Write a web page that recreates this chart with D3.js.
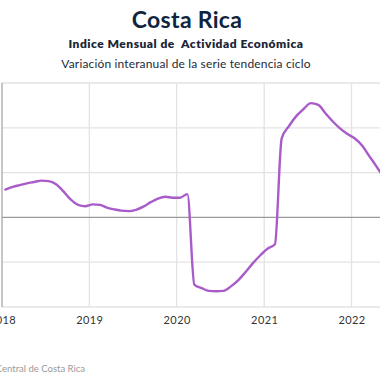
<!DOCTYPE html>
<html>
<head>
<meta charset="utf-8">
<script src="https://cdn.jsdelivr.net/npm/d3@7"></script>
<style>
html,body{margin:0;padding:0;background:#fff;}
svg{display:block;}
</style>
</head>
<body>
<svg id="chart" width="380" height="380"></svg>
<script>
// ---- data ----
const startYear = 2018;
const startMonth = 0; // January
const values = [
  3.1, 3.4, 3.6, 3.8, 3.95, 4.1, 4.05, 3.7, 2.9, 2.0, 1.4, 1.25,
  1.45, 1.4, 1.1, 0.9, 0.75, 0.7, 0.85, 1.2, 1.7, 2.1, 2.3, 2.2,
  2.2, 2.6, -7.5, -7.9, -8.2, -8.25, -8.2, -7.7, -7.0, -6.1, -5.1, -4.25,
  -3.5, -3.0, 8.8, 10.2, 11.3, 12.1, 12.75, 12.55, 11.6, 10.7, 9.9, 9.3,
  8.8, 8.0, 6.9, 5.7, 4.5
];
const yTicks = [-10, -5, 0, 5, 10, 15];
const xTickYears = [2018, 2019, 2020, 2021, 2022];
const title = "Costa Rica";
const subtitle = "Indice Mensual de  Actividad Económica";
const subtitle2 = "Variación interanual de la serie tendencia ciclo";
const source = "Fuente: Banco Central de Costa Rica";

const series = values.map((v, i) => ({date: new Date(startYear, startMonth + i, 15), value: v}));

// ---- layout ----
const svg = d3.select("#chart");
const W = 380, H = 380;
const mLeft = 2, mTop = 83, mBottom = 307;

const x = d3.scaleTime()
  .domain([new Date(2018, 0, 1), new Date(2022, 0, 1)])
  .range([mLeft, 351.5]);
const y = d3.scaleLinear().domain([-10, 15]).range([mBottom, mTop]);

// titles
svg.append("text").attr("x", 187).attr("y", 28).attr("text-anchor", "middle")
  .attr("font-family", "Lato, sans-serif").attr("font-weight", 700)
  .attr("font-size", 23).attr("letter-spacing", 0.3).attr("fill", "#0f2440").text(title);
svg.append("text").attr("x", 186).attr("y", 48).attr("text-anchor", "middle")
  .attr("font-family", "Lato, sans-serif").attr("font-weight", 800)
  .attr("font-size", 12).attr("letter-spacing", 0.5).attr("fill", "#1b2535")
  .style("white-space", "pre").text(subtitle);
svg.append("text").attr("x", 186).attr("y", 68).attr("text-anchor", "middle")
  .attr("font-family", "Lato, sans-serif").attr("font-weight", 400)
  .attr("font-size", 12).attr("letter-spacing", 0.15).attr("fill", "#1e2a3a").text(subtitle2);

const g = svg.append("g");

// horizontal gridlines
g.selectAll("line.hgrid").data(yTicks.filter(d => d !== 0)).enter().append("line")
  .attr("class", "hgrid")
  .attr("x1", mLeft).attr("x2", W)
  .attr("y1", d => y(d)).attr("y2", d => y(d))
  .attr("stroke", "#e3e3e3").attr("stroke-width", 1.3);

// vertical gridlines
g.selectAll("line.vgrid").data(xTickYears.slice(1)).enter().append("line")
  .attr("class", "vgrid")
  .attr("x1", d => x(new Date(d, 0, 1))).attr("x2", d => x(new Date(d, 0, 1)))
  .attr("y1", mTop).attr("y2", mBottom)
  .attr("stroke", "#e3e3e3").attr("stroke-width", 1.3);

// zero line
g.append("line").attr("x1", mLeft).attr("x2", W)
  .attr("y1", y(0)).attr("y2", y(0))
  .attr("stroke", "#9a9a9a").attr("stroke-width", 1.2);

// left axis line
g.append("line").attr("x1", mLeft).attr("x2", mLeft)
  .attr("y1", mTop).attr("y2", mBottom)
  .attr("stroke", "#a0a0a0").attr("stroke-width", 1.2);

// x axis labels
const xAxis = d3.axisBottom(x)
  .tickValues(xTickYears.map(yr => new Date(yr, 0, 1)))
  .tickFormat(d3.timeFormat("%Y"))
  .tickSize(0).tickPadding(9);
const ax = svg.append("g").attr("transform", `translate(0,${mBottom})`).call(xAxis);
ax.select(".domain").remove();
ax.selectAll("text").attr("font-family", "Lato, sans-serif").attr("font-size", 11)
  .attr("fill", "#333").attr("letter-spacing", 0.4);

// line
svg.append("clipPath").attr("id", "clip").append("rect")
  .attr("x", mLeft).attr("y", 0).attr("width", W - mLeft).attr("height", H);
const line = d3.line().x(d => x(d.date)).y(d => y(d.value)).curve(d3.curveMonotoneX);
svg.append("path").datum(series).attr("clip-path", "url(#clip)")
  .attr("d", line).attr("fill", "none")
  .attr("stroke", "#a95bc9").attr("stroke-width", 2.4)
  .attr("stroke-linejoin", "round").attr("stroke-linecap", "round");

// source
svg.append("text").attr("x", 85).attr("y", 372).attr("text-anchor", "end")
  .attr("font-family", "Lato, sans-serif").attr("font-size", 9.5)
  .attr("fill", "#9a9a9a").text(source);
</script>
</body>
</html>
